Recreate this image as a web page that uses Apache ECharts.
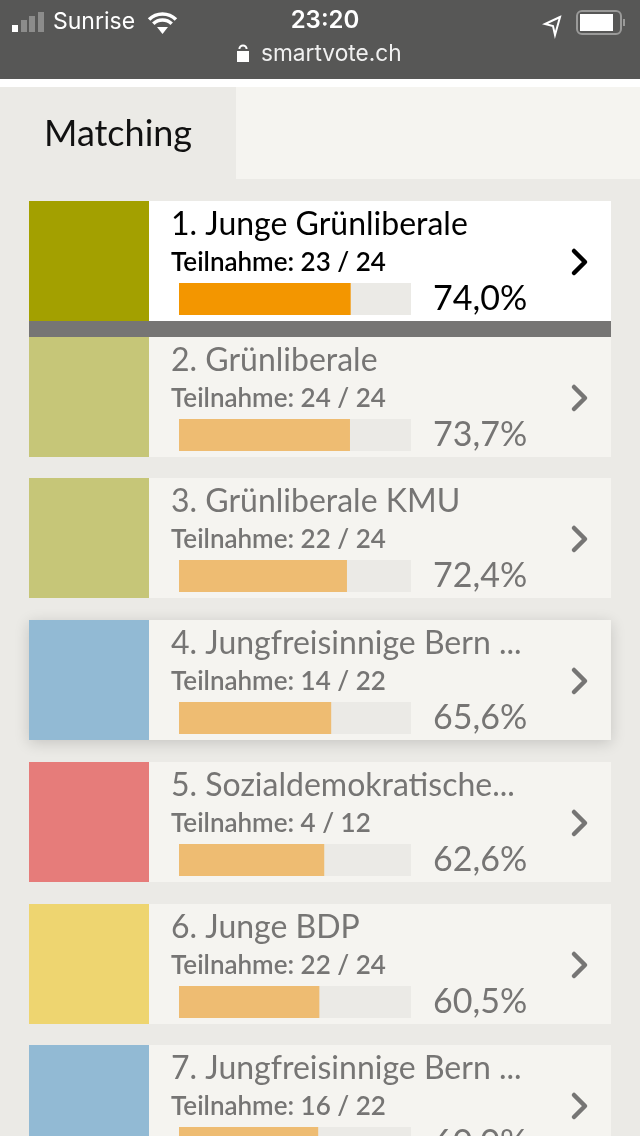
<!DOCTYPE html>
<html>
<head>
<meta charset="utf-8">
<title>Matching</title>
<style>
  html, body { margin: 0; padding: 0; background: #ebeae6; }
  #main { width: 640px; height: 1136px; }
</style>
<script src="https://cdn.jsdelivr.net/npm/echarts@6/dist/echarts.min.js"></script>
</head>
<body>
<div id="main"></div>
<script>
// values
var parties = ['1. Junge Grünliberale', '2. Grünliberale', '3. Grünliberale KMU', '4. Jungfreisinnige Bern ...', '5. Sozialdemokratische...', '6. Junge BDP', '7. Jungfreisinnige Bern ...'];
var participation = ['23 / 24', '24 / 24', '22 / 24', '14 / 22', '4 / 12', '22 / 24', '16 / 22'];
var matching = [74.0, 73.7, 72.4, 65.6, 62.6, 60.5, 60.0];
var partyColors = ['#a3a000', '#c6c678', '#c6c678', '#92bad4', '#e67c7a', '#eed570', '#92bad4'];

var rowTops = [201, 337, 478, 620, 762, 904, 1045];
var grey = '#767574';
var font = 'Lato, "Noto Sans", sans-serif';
var sysFont = 'Inter, Roboto, sans-serif';

var chart = echarts.init(document.getElementById('main'));

var grids = [], xAxes = [], yAxes = [], series = [];
var elements = [];

function addText(text, x, y, size, color, weight, family, align) {
    elements.push({
        type: 'text', x: x, y: y,
        style: {
            text: text, fill: color, textAlign: align || 'left', textVerticalAlign: 'middle',
            font: (weight || 'normal') + ' ' + size + 'px ' + (family || font)
        }
    });
}

function addRect(x, y, w, h, color, extra) {
    var style = { fill: color };
    if (extra) { for (var k in extra) { style[k] = extra[k]; } }
    elements.push({ type: 'rect', shape: { x: x, y: y, width: w, height: h }, style: style });
}

function addArc(cx, cy, r, start, end, width) {
    elements.push({
        type: 'arc', shape: { cx: cx, cy: cy, r: r, startAngle: start, endAngle: end, clockwise: true },
        style: { fill: null, stroke: '#ffffff', lineWidth: width }
    });
}

// status bar and url bar
addRect(0, 0, 640, 79, '#575756');
addRect(12, 25, 6, 7, '#ffffff');
addRect(21, 20, 6, 12, '#8c8c8b');
addRect(29, 16, 6, 16, '#8c8c8b');
addRect(38, 12, 6, 20, '#8c8c8b');
addText('Sunrise', 53, 22, 23, '#ffffff', 'normal', sysFont);
// wifi
addArc(162.5, 33, 19, -Math.PI * 0.75, -Math.PI * 0.25, 3.5);
addArc(162.5, 33, 13, -Math.PI * 0.75, -Math.PI * 0.25, 3.5);
elements.push({ type: 'polygon', shape: { points: [[157, 27], [168, 27], [162.5, 34]] }, style: { fill: '#ffffff' } });
addText('23:20', 325, 21, 24, '#ffffff', '600', sysFont, 'center');
elements.push({
    type: 'polygon', shape: { points: [[560, 17], [545, 24], [553, 26], [555, 35]] },
    style: { fill: null, stroke: '#ffffff', lineWidth: 2 }
});
elements.push({
    type: 'rect', shape: { x: 577, y: 11, width: 44, height: 23, r: 5 },
    style: { fill: null, stroke: '#9a9a99', lineWidth: 2 }
});
addRect(580, 14, 33, 17, '#ffffff');
addRect(623, 19, 2, 7, '#9a9a99');
// lock
addRect(237, 51, 12, 11, '#ffffff');
addArc(243, 49, 3.6, -Math.PI, 0, 2);
addText('smartvote.ch', 261, 54, 22.7, '#f0f0f0', 'normal', sysFont);

// white strip and tab
addRect(0, 79, 640, 8, '#ffffff');
addRect(236, 87, 404, 92, '#f5f4f0');
addText('Matching', 44, 134, 36, '#111111', 'normal');

parties.forEach(function (name, i) {
    var top = rowTops[i];
    var active = i === 0;
    var color = active ? '#000000' : grey;

    if (i === 3) {
        addRect(29, top, 582, 120, '#f5f4f0', { shadowBlur: 14, shadowColor: 'rgba(0,0,0,0.16)', shadowOffsetY: 3 });
    } else {
        addRect(29, top, 582, 120, active ? '#ffffff' : '#f5f4f0');
    }
    addRect(29, top, 120, 120, partyColors[i]);
    addText(name, 171, top + 24, 32, color, 'normal');
    addText('Teilnahme: ' + participation[i], 171, top + 62, 26, color, '600');
    elements.push({
        type: 'polyline', shape: { points: [[574, top + 50], [585, top + 61], [574, top + 72]] },
        style: { fill: null, stroke: color, lineWidth: 4.5, lineCap: 'round', lineJoin: 'round' }
    });

    // outerBoundsMode none: the last row runs past the bottom of the page
    grids.push({ left: 179, top: top + 82, width: 232, height: 32, outerBoundsMode: 'none' });
    xAxes.push({ gridIndex: i, type: 'value', min: 0, max: 100, show: false });
    yAxes.push({
        gridIndex: i, type: 'category', position: 'right', data: [matching[i]],
        axisLine: { show: false }, axisTick: { show: false }, splitLine: { show: false },
        axisLabel: {
            margin: 22, fontFamily: 'Lato, "Noto Sans", sans-serif', fontSize: 34, color: color,
            padding: [5, 0, 0, 0],
            formatter: function (v) { return Number(v).toFixed(1).replace('.', ',') + '%'; }
        }
    });
    series.push({
        type: 'bar', xAxisIndex: i, yAxisIndex: i, data: [matching[i]], barWidth: '100%',
        silent: true, showBackground: true, backgroundStyle: { color: '#ebeae6' },
        itemStyle: { color: active ? '#f39600' : '#eebc72' }
    });
});

// dark separator under the first row
addRect(29, 321, 582, 16, grey);

var option = {
    animation: false,
    backgroundColor: '#ebeae6',
    graphic: { z: -1, silent: true, elements: elements },
    grid: grids,
    xAxis: xAxes,
    yAxis: yAxes,
    series: series
};

chart.setOption(option);
</script>
</body>
</html>
